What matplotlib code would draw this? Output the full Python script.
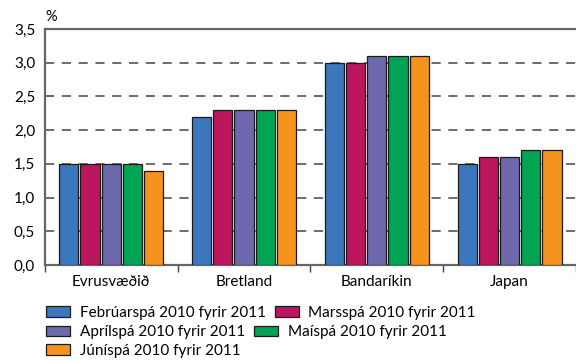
import matplotlib.pyplot as plt
import numpy as np
from matplotlib.patches import Patch

countries = ["Evrusvæðið", "Bretland", "Bandaríkin", "Japan"]
series = ["Febrúarspá 2010 fyrir 2011", "Marsspá 2010 fyrir 2011",
          "Aprílspá 2010 fyrir 2011", "Maíspá 2010 fyrir 2011",
          "Júníspá 2010 fyrir 2011"]
feb = [1.5, 2.2, 3.0, 1.5]
mar = [1.5, 2.3, 3.0, 1.6]
apr = [1.5, 2.3, 3.1, 1.6]
mai = [1.5, 2.3, 3.1, 1.7]
jun = [1.4, 2.3, 3.1, 1.7]
values = [feb, mar, apr, mai, jun]
colors = ["#3a77bd", "#bb165e", "#6e68ae", "#00a452", "#f6931f"]
yticks = [0.0, 0.5, 1.0, 1.5, 2.0, 2.5, 3.0, 3.5]

plt.rcParams["font.family"] = ["Lato", "DejaVu Sans"]
fig = plt.figure(figsize=(5.76, 3.62), dpi=100)
ax = fig.add_axes([0.078, 0.268, 0.922, 0.652])

x = np.arange(len(countries))
w = 0.145
step = 0.16
for i, (vals, c) in enumerate(zip(values, colors)):
    ax.bar(x + (i - 2) * step, vals, width=w, color=c,
           edgecolor="#1a1a1a", linewidth=0.9, zorder=3)

ax.set_xlim(-0.5, len(countries) - 0.5)
ax.set_ylim(0, 3.5)
ax.set_yticks(yticks)
ax.set_yticklabels([f"{v:.1f}".replace(".", ",") for v in yticks], fontsize=11)
ax.set_xticks(x)
ax.set_xticklabels(countries, fontsize=11)
ax.tick_params(axis="x", length=0, pad=7)
ax.set_xticks(np.arange(-0.5, len(countries)), minor=True)
ax.tick_params(axis="x", which="minor", length=5, width=1, color="#444444")
ax.tick_params(axis="y", length=0, pad=7)

for v in yticks[1:-1]:
    ax.axhline(v, color="#444444", linestyle=(0, (6, 5)), linewidth=1.1, zorder=1)

for s in ["left", "top", "bottom"]:
    ax.spines[s].set_color("#666666")
    ax.spines[s].set_linewidth(1.6)
ax.spines["right"].set_visible(False)

ax.text(0.0, 1.035, "%", transform=ax.transAxes, fontsize=10.5, ha="left")

handles = [Patch(facecolor=c, edgecolor="#1a1a1a", linewidth=0.9) for c in colors]
rows = [[0, 1], [2, 3], [4]]
row_y = [0.135, 0.082, 0.031]
for r, yy in zip(rows, row_y):
    fig.legend([handles[i] for i in r], [series[i] for i in r],
               loc="center left", bbox_to_anchor=(0.08, yy), ncol=len(r),
               frameon=False, fontsize=11, handlelength=1.55, handleheight=0.7,
               handletextpad=0.65, columnspacing=0.6, borderpad=0.0,
               borderaxespad=0.0)

fig.savefig("out.png", dpi=100)
